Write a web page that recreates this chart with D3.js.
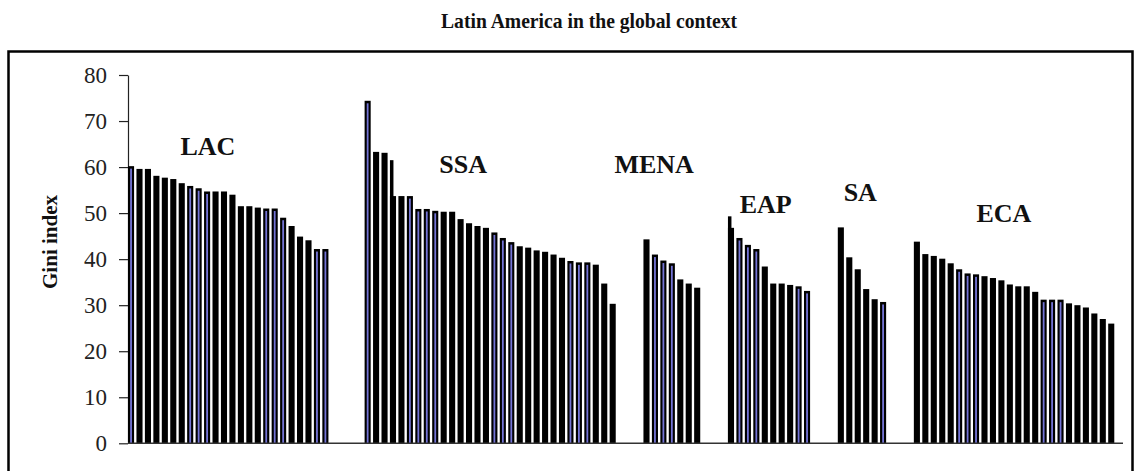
<!DOCTYPE html>
<html>
<head>
<meta charset="utf-8">
<script src="https://cdn.jsdelivr.net/npm/d3@7/dist/d3.min.js"></script>
<style>
  html, body { margin: 0; padding: 0; background: #fff; }
  svg { display: block; }
  text { font-family: "Liberation Serif", "Times New Roman", serif; }
</style>
</head>
<body>
<svg id="chart" width="1137" height="471"></svg>
<script>
// ---------------- data ----------------
const title = "Latin America in the global context";
const yTitle = "Gini index";
const regions = ["LAC", "SSA", "MENA", "EAP", "SA", "ECA"];
const yTicks = [0, 10, 20, 30, 40, 50, 60, 70, 80];

const lacValues  = [60.2, 59.6, 59.6, 58.1, 57.7, 57.4, 56.5, 55.9, 55.4, 54.7, 54.7, 54.7, 54.0,
                    51.5, 51.5, 51.2, 51.0, 51.0, 49.0, 47.2, 44.9, 44.1, 42.2, 42.2];
const ssaValues  = [74.4, 63.3, 63.1, 53.7, 53.7, 53.7, 50.9, 50.9, 50.5, 50.3, 50.3, 48.7, 47.8,
                    47.2, 46.8, 45.8, 44.6, 43.7, 42.8, 42.5, 41.9, 41.6, 41.0, 40.3, 39.6, 39.3,
                    39.3, 38.8, 34.7, 30.3];
const menaValues = [44.3, 41.0, 39.7, 39.1, 35.6, 34.7, 33.8];
const eapValues  = [46.8, 44.6, 43.1, 42.2, 38.4, 34.7, 34.7, 34.4, 34.1, 33.1];
const saValues   = [46.9, 40.4, 37.8, 33.5, 31.3, 30.7];
const ecaValues  = [43.8, 41.1, 40.7, 40.1, 39.1, 37.8, 36.9, 36.7, 36.3, 35.9, 35.4, 34.5, 34.1,
                    34.1, 32.9, 31.2, 31.2, 31.2, 30.4, 30.0, 29.5, 28.2, 27.0, 26.0];
// overlapping thin bars drawn on top of a neighbour (region, bar index, value)
const peakRegion = ["SSA", "EAP"];
const peakIndex  = [3, 0];
const peakValue  = [61.5, 49.3];
// bars whose fill shows blue in the original
const blueLAC  = [0, 7, 8, 9, 16, 17, 18, 22, 23];
const blueSSA  = [0, 5, 6, 7, 8, 15, 16, 17, 24, 25, 26];
const blueMENA = [1, 2, 3];
const blueEAP  = [1, 2, 3, 8, 9];
const blueSA   = [5];
const blueECA  = [5, 6, 7, 15, 16, 17];

// ---------------- layout ----------------
const seriesValues = [lacValues, ssaValues, menaValues, eapValues, saValues, ecaValues];
const blueSets = [blueLAC, blueSSA, blueMENA, blueEAP, blueSA, blueECA];
const gapAfter = [4, 3, 3, 3, 3]; // empty category slots between regions
const labelSlot = [9.1, 39.3, 61.9, 75.1, 86.3, 103.3];
const labelVal  = [62.7, 58.8, 58.8, 50.1, 52.7, 48.1];

const bars = [];
let slot = 0;
regions.forEach((r, gi) => {
  seriesValues[gi].forEach((v, i) => {
    bars.push({ region: r, i, slot, value: v, blue: blueSets[gi].includes(i) });
    slot++;
  });
  if (gi < gapAfter.length) slot += gapAfter[gi];
});
const nSlots = slot;

const svg = d3.select("#chart");
const step = 8.45;
const x = d3.scaleBand()
  .domain(d3.range(nSlots))
  .range([128 - step * 0.14, 128 - step * 0.14 + step * nSlots])
  .paddingInner(0.28)
  .paddingOuter(0.14);
const y = d3.scaleLinear().domain([0, 80]).range([443.3, 75]);

// frame
svg.append("rect")
  .attr("x", 8.5).attr("y", 51.5)
  .attr("width", 1124).attr("height", 440)
  .attr("fill", "none").attr("stroke", "#000").attr("stroke-width", 2.5);

// title
svg.append("text")
  .attr("x", 589).attr("y", 28)
  .attr("text-anchor", "middle")
  .attr("font-size", 21).attr("font-weight", "bold")
  .attr("textLength", 296).attr("lengthAdjust", "spacingAndGlyphs")
  .attr("fill", "#111")
  .text(title);

// y axis
const yAxis = d3.axisLeft(y).tickValues(yTicks).tickSize(9).tickSizeOuter(0).tickPadding(12);
const ga = svg.append("g").attr("transform", "translate(128,0)").call(yAxis);
ga.selectAll("text").attr("font-size", 23).attr("fill", "#222")
  .style("font-family", "'Liberation Serif', serif");
ga.selectAll("line, path").attr("stroke", "#222").attr("stroke-width", 1.2);

// y title
svg.append("text")
  .attr("transform", "translate(57,242) rotate(-90)")
  .attr("text-anchor", "middle")
  .attr("font-size", 21).attr("font-weight", "bold")
  .attr("fill", "#111")
  .text(yTitle);

// bars
const bw = x.bandwidth();
svg.append("g").selectAll("rect").data(bars).join("rect")
  .attr("x", d => x(d.slot))
  .attr("y", d => y(d.value))
  .attr("width", bw)
  .attr("height", d => y(0) - y(d.value))
  .attr("fill", "#000");

// blue cores
svg.append("g").selectAll("rect").data(bars.filter(d => d.blue)).join("rect")
  .attr("x", d => x(d.slot) + bw / 2 - 0.9)
  .attr("y", d => y(d.value) + 2.5)
  .attr("width", 1.8)
  .attr("height", d => y(0) - y(d.value) - 2.5)
  .attr("fill", "#7474d6");

// thin overlapping peaks
const peaks = peakRegion.map((r, k) => {
  const b = bars.find(d => d.region === r && d.i === peakIndex[k]);
  return { slot: b.slot, value: peakValue[k] };
});
svg.append("g").selectAll("rect").data(peaks).join("rect")
  .attr("x", d => x(d.slot))
  .attr("y", d => y(d.value))
  .attr("width", 3.5)
  .attr("height", d => y(0) - y(d.value))
  .attr("fill", "#000");

// baseline
svg.append("line")
  .attr("x1", 128).attr("x2", 1123)
  .attr("y1", y(0)).attr("y2", y(0))
  .attr("stroke", "#333").attr("stroke-width", 1.5);

// region labels
svg.append("g").selectAll("text").data(regions).join("text")
  .attr("x", (d, i) => x(0) + bw / 2 + labelSlot[i] * step)
  .attr("y", (d, i) => y(labelVal[i]))
  .attr("text-anchor", "middle")
  .attr("font-size", 26).attr("font-weight", "bold")
  .attr("fill", "#111")
  .text(d => d);
</script>
</body>
</html>
